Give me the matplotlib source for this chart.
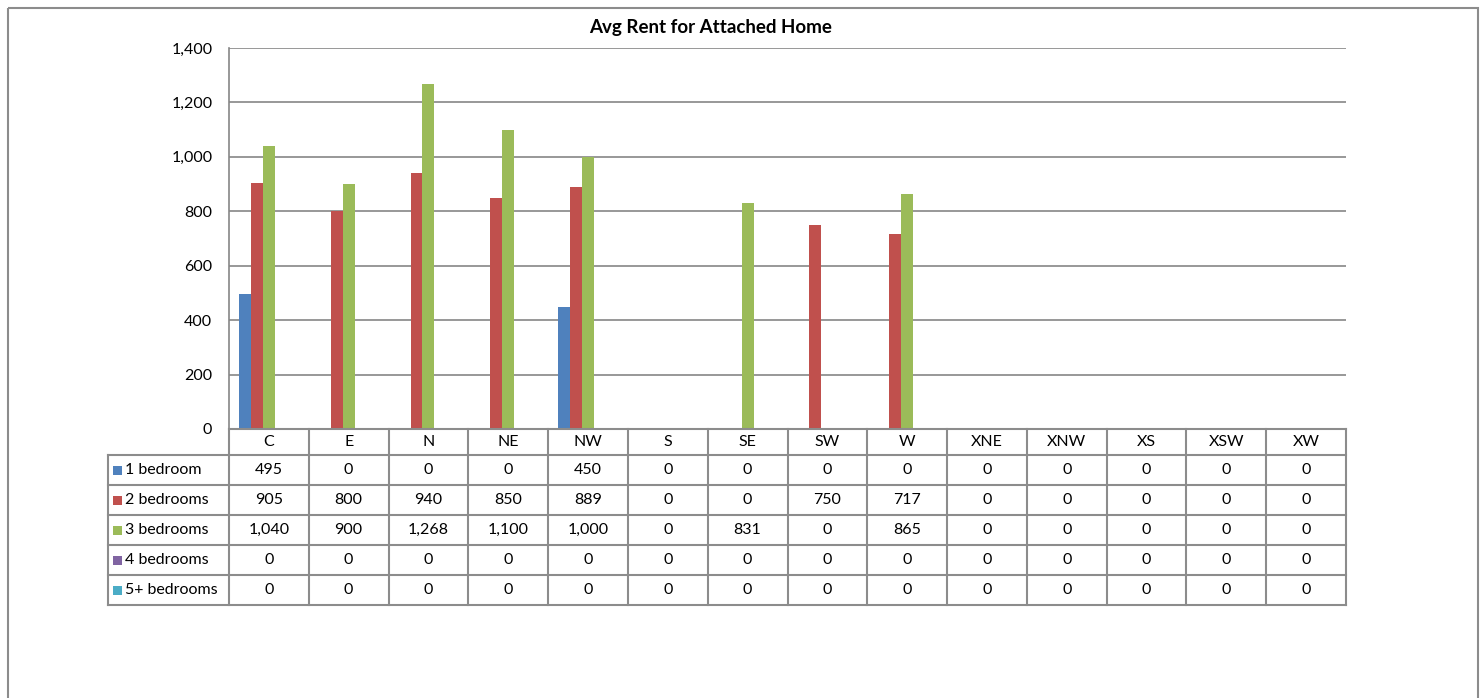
import numpy as np
import matplotlib
matplotlib.use("Agg")
import matplotlib.pyplot as plt
from matplotlib.patches import Rectangle

plt.rcParams['font.family'] = ['Lato', 'DejaVu Sans']

regions = ["C", "E", "N", "NE", "NW", "S", "SE", "SW", "W", "XNE", "XNW", "XS", "XSW", "XW"]
series_names = ["1 bedroom", "2 bedrooms", "3 bedrooms", "4 bedrooms", "5+ bedrooms"]
one_bed = [495, 0, 0, 0, 450, 0, 0, 0, 0, 0, 0, 0, 0, 0]
two_bed = [905, 800, 940, 850, 889, 0, 0, 750, 717, 0, 0, 0, 0, 0]
three_bed = [1040, 900, 1268, 1100, 1000, 0, 831, 0, 865, 0, 0, 0, 0, 0]
four_bed = [0] * 14
five_bed = [0] * 14
colors = ["#4F81BD", "#C0504D", "#9BBB59", "#8064A2", "#4BACC6"]

W, H = 1481, 698
fig = plt.figure(figsize=(W / 100, H / 100), dpi=100)
fs = 11.5

# layout in pixels
px_left, px_right = 229, 1346
px_top, px_bottom = 48, 429
row_h = 30
head_h = 26
label_left = 108
grid_col = "#868686"
line_col = "#8C8C8C"

ax = fig.add_axes([px_left / W, 1 - px_bottom / H, (px_right - px_left) / W, (px_bottom - px_top) / H])
all_series = [one_bed, two_bed, three_bed, four_bed, five_bed]
x = np.arange(len(regions))
bw = 0.15
for i, (vals, c) in enumerate(zip(all_series, colors)):
    ax.bar(x + (i - 2) * bw, vals, bw, color=c, zorder=3)
ax.set_xlim(-0.5, len(regions) - 0.5)
ax.set_ylim(0, 1400)
ax.set_yticks(range(0, 1401, 200))
ax.set_yticklabels([f"{v:,}" for v in range(0, 1401, 200)], fontsize=fs)
ax.set_xticks([])
ax.grid(axis="y", color=grid_col, linewidth=1.2, zorder=0)
for s in ["top", "right", "bottom"]:
    ax.spines[s].set_visible(False)
ax.spines["left"].set_color(grid_col)
ax.spines["left"].set_linewidth(1.2)
ax.tick_params(axis="y", length=0, pad=12)

# overlay for table, title and frame (pixel coords)
ov = fig.add_axes([0, 0, 1, 1], facecolor="none")
ov.set_xlim(0, W)
ov.set_ylim(H, 0)
ov.axis("off")

ov.add_patch(Rectangle((8, 8), 1470, 720, fill=False, edgecolor="#8C8C8C", linewidth=1.5))
ov.text(711, 28, "Avg Rent for Attached Home", ha="center", va="center", fontsize=13.5, fontweight="bold")

ncol = len(regions)
col_w = (px_right - px_left) / ncol
table_bottom = px_bottom + head_h + row_h * len(series_names)
lw = 1.5
# vertical lines
for j in range(ncol + 1):
    xx = px_left + j * col_w
    ov.plot([xx, xx], [px_bottom, table_bottom], color=line_col, lw=lw)
ov.plot([label_left, label_left], [px_bottom + head_h, table_bottom], color=line_col, lw=lw)
# horizontal lines
ov.plot([px_left, px_right], [px_bottom, px_bottom], color=line_col, lw=lw)
for r in range(len(series_names) + 1):
    yy = px_bottom + head_h + r * row_h
    ov.plot([label_left, px_right], [yy, yy], color=line_col, lw=lw)

# header
for j, name in enumerate(regions):
    ov.text(px_left + (j + 0.5) * col_w, px_bottom + head_h / 2, name, ha="center", va="center", fontsize=fs)
# rows
for r, (name, vals, c) in enumerate(zip(series_names, all_series, colors)):
    yc = px_bottom + head_h + (r + 0.5) * row_h
    ov.add_patch(Rectangle((113, yc - 4.5), 9, 9, facecolor=c, edgecolor="none"))
    ov.text(125, yc, name, ha="left", va="center", fontsize=fs)
    for j, v in enumerate(vals):
        ov.text(px_left + (j + 0.5) * col_w, yc, f"{v:,}", ha="center", va="center", fontsize=fs)

fig.savefig("out.png", dpi=100)
